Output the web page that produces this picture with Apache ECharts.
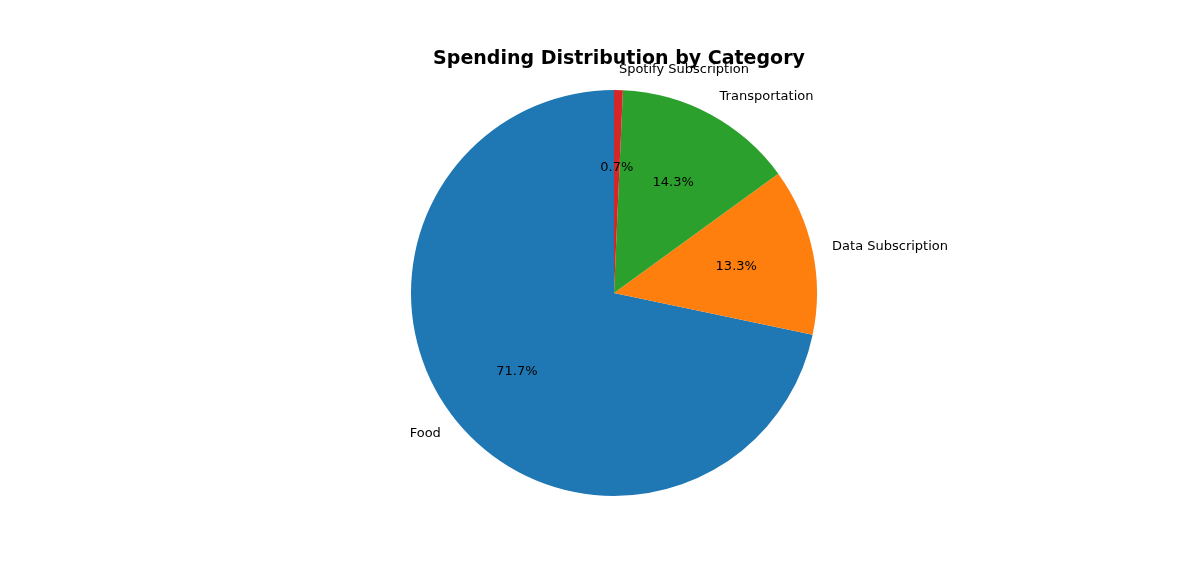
<!DOCTYPE html>
<html>
<head>
<meta charset="utf-8">
<script src="https://cdn.jsdelivr.net/npm/echarts@6/dist/echarts.min.js"></script>
<style>html,body{margin:0;background:#fff}#c{width:1199px;height:582px}</style>
</head>
<body>
<div id="c"></div>
<script>
var categories = ['Food', 'Data Subscription', 'Transportation', 'Spotify Subscription'];
var values = [71.7, 13.3, 14.3, 0.7];
var colors = ['#1f77b4', '#ff7f0e', '#2ca02c', '#d62728'];

var data = categories.map(function (name, i) {
  return { name: name, value: values[i], itemStyle: { color: colors[i] } };
});
var font = 'DejaVu Sans';
var chart = echarts.init(document.getElementById('c'));
chart.setOption({
  animation: false,
  title: {
    text: 'Spending Distribution by Category',
    left: 614, top: 45, textAlign: 'center',
    textStyle: { fontFamily: font, fontSize: 19, fontWeight: 'bold', color: '#000' }
  },
  series: [{
    type: 'pie',
    center: [614, 293],
    radius: [0, 203],
    startAngle: 90,
    clockwise: false,
    silent: true,
    data: data,
    label: {
      position: 'outside', fontFamily: font, fontSize: 13, color: '#000',
      distanceToLabelLine: 0
    },
    labelLine: { show: false, length: 20, length2: 0 }
  }, {
    type: 'pie',
    center: [614, 293],
    radius: [0, 244],
    startAngle: 90,
    clockwise: false,
    silent: true,
    data: data.map(function (d) {
      return { name: d.name, value: d.value, itemStyle: { color: 'rgba(0,0,0,0)' } };
    }),
    label: {
      position: 'inside', fontFamily: font, fontSize: 13, color: '#000',
      formatter: function (p) { return p.value.toFixed(1) + '%'; }
    },
    labelLine: { show: false }
  }]
});
</script>
</body>
</html>
